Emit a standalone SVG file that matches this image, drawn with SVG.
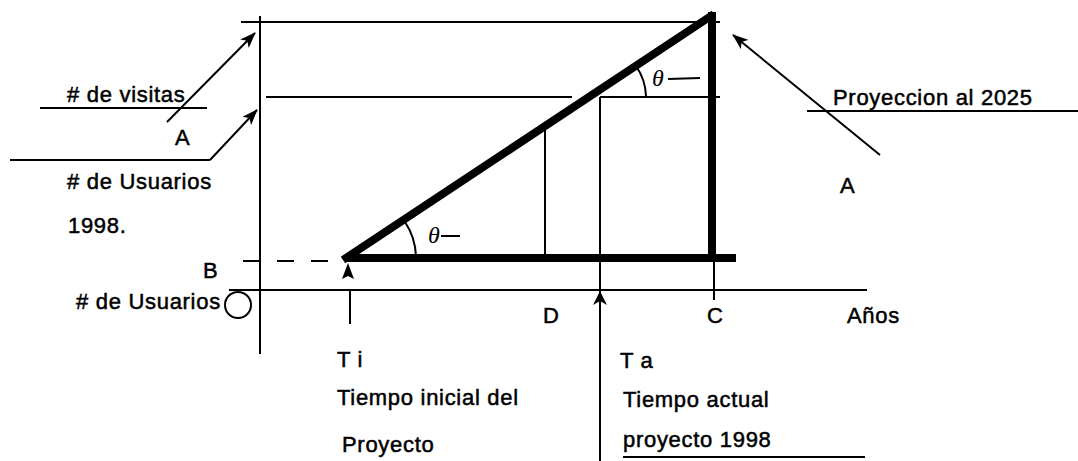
<svg xmlns="http://www.w3.org/2000/svg" width="1078" height="461" viewBox="0 0 1078 461">
<style>
.t{font-family:"Liberation Sans",Arial,sans-serif;font-size:22px;fill:#000;stroke:#000;stroke-width:0.5px;letter-spacing:0.7px}
.th{font-family:"Liberation Serif",serif;font-style:italic;font-size:24px;fill:#000}
.thin{stroke:#000;stroke-width:2;fill:none}
.thick{stroke:#000;stroke-width:8;fill:none;stroke-linecap:butt}
.dash{stroke:#000;stroke-width:2;fill:none;stroke-dasharray:17 17}
.head{fill:#000}
</style>
<defs>
<marker id="ah" viewBox="0 0 16 12" refX="15" refY="6" markerWidth="16" markerHeight="12" markerUnits="userSpaceOnUse" orient="auto">
<path d="M0,0 L16,6 L0,12 L4,6 Z" fill="#000"/>
</marker>
</defs>
<rect width="1078" height="461" fill="#fff"/>

<g id="axes">
<line class="thin" x1="260" y1="16" x2="260" y2="354"/>
<line class="thin" x1="229" y1="290" x2="867" y2="290"/>
<line class="thin" x1="241" y1="22" x2="720" y2="22"/>
<line class="thin" x1="266" y1="97" x2="572" y2="97"/>
<line class="thin" x1="600" y1="97" x2="720" y2="97"/>
<line class="dash" x1="243" y1="261" x2="345" y2="261"/>
</g>

<g id="triangle">
<line class="thick" x1="343" y1="260" x2="714" y2="14"/>
<line class="thick" x1="712" y1="12" x2="712" y2="261"/>
<line class="thick" x1="345" y1="258" x2="736" y2="258"/>
<line class="thin" x1="545" y1="130" x2="545" y2="256"/>
<path class="thin" d="M405,222 A66,66 0 0 1 416,256"/>
<path class="thin" d="M636,66 A56,56 0 0 1 646,96"/>
<text class="th" x="428" y="243">θ</text>
<line class="thin" x1="441" y1="236" x2="460" y2="236"/>
<text class="th" x="652" y="86">θ</text>
<line class="thin" x1="668" y1="79" x2="700" y2="78"/>
</g>

<g id="connectors">
<line class="thin" x1="167" y1="122" x2="255" y2="33" marker-end="url(#ah)"/>
<line class="thin" x1="210" y1="160" x2="257" y2="110" marker-end="url(#ah)"/>
<line class="thin" x1="880" y1="155" x2="733" y2="35" marker-end="url(#ah)"/>
<line class="thin" x1="600" y1="97" x2="600" y2="461"/>
<path class="head" d="M600,291 L607,305 L600,301 L593,305 Z"/>
<path class="head" d="M348,263 L354,279 L348,276 L342,279 Z"/>
<line class="thin" x1="350" y1="290" x2="350" y2="324"/>
<line class="thin" x1="714" y1="261" x2="714" y2="300"/>
</g>

<g id="label-visitas">
<text class="t" x="67" y="102"># de visitas</text>
<line class="thin" x1="40" y1="108" x2="207" y2="108"/>
<text class="t" x="175" y="145">A</text>
</g>

<g id="label-usuarios1998">
<line class="thin" x1="10" y1="160" x2="210" y2="160"/>
<text class="t" x="67" y="189"># de Usuarios</text>
<text class="t" x="68" y="233">1998.</text>
</g>

<g id="label-B">
<text class="t" x="203" y="278">B</text>
</g>

<g id="label-usuarios0">
<text class="t" x="76" y="309"># de Usuarios</text>
<circle class="thin" cx="238" cy="305" r="13"/>
</g>

<g id="label-proyeccion">
<text class="t" x="833" y="105">Proyeccion al 2025</text>
<line class="thin" x1="807" y1="111" x2="1078" y2="111"/>
<text class="t" x="840" y="193">A</text>
</g>

<g id="label-D"><text class="t" x="543" y="323">D</text></g>
<g id="label-C"><text class="t" x="707" y="323">C</text></g>
<g id="label-anios"><text class="t" x="847" y="323">Años</text></g>

<g id="label-Ti">
<text class="t" x="337" y="367">T i</text>
<text class="t" x="337" y="405">Tiempo inicial del</text>
<text class="t" x="342" y="452">Proyecto</text>
</g>

<g id="label-Ta">
<text class="t" x="620" y="368">T a</text>
<text class="t" x="623" y="407">Tiempo actual</text>
<text class="t" x="623" y="447">proyecto 1998</text>
<line class="thin" x1="623" y1="457" x2="865" y2="457"/>
</g>
</svg>
